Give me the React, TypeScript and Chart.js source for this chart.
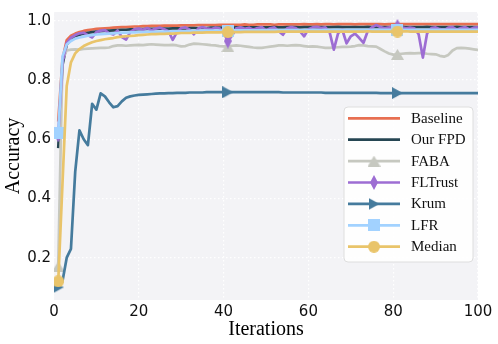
import React, { useEffect, useRef } from 'react';
import { Chart, registerables } from 'chart.js';

Chart.register(...registerables);

// x positions (iteration index)
const iterations: number[] = Array.from({ length: 101 }, (_, i) => i);
const xTicks = [0, 20, 40, 60, 80, 100];
const yTicks = [0.2, 0.4, 0.6, 0.8, 1.0];
const markerIdx = [1, 41, 81];

const seriesLabels = ['Baseline', 'Our FPD', 'FABA', 'FLTrust', 'Krum', 'LFR', 'Median'];

const baseline = [null, 0.66, 0.87, 0.935, 0.950, 0.957, 0.962, 0.966, 0.969, 0.971,
  0.973, 0.974, 0.975, 0.976, 0.977, 0.978, 0.979, 0.979, 0.980, 0.981,
  0.981, 0.982, 0.982, 0.983, 0.983, 0.983, 0.984, 0.984, 0.984, 0.984,
  0.985, 0.985, 0.985, 0.985, 0.986, 0.986, 0.986, 0.986, 0.986, 0.987,
  0.987, 0.987, 0.987, 0.987, 0.987, 0.988, 0.987, 0.987, 0.988, 0.988,
  0.988, 0.988, 0.987, 0.988, 0.988, 0.988, 0.988, 0.988, 0.988, 0.989,
  0.988, 0.988, 0.989, 0.988, 0.989, 0.989, 0.988, 0.989, 0.989, 0.989,
  0.989, 0.988, 0.989, 0.989, 0.989, 0.989, 0.989, 0.989, 0.988, 0.989,
  0.989, 0.989, 0.989, 0.989, 0.989, 0.989, 0.989, 0.989, 0.989, 0.989,
  0.989, 0.989, 0.989, 0.989, 0.989, 0.989, 0.989, 0.989, 0.989, 0.989, 0.989];

const ourFPD = [null, 0.57, 0.85, 0.92, 0.938, 0.947, 0.953, 0.957, 0.960, 0.962,
  0.964, 0.965, 0.966, 0.967, 0.968, 0.969, 0.970, 0.970, 0.971, 0.971,
  0.972, 0.972, 0.973, 0.973, 0.973, 0.974, 0.974, 0.974, 0.975, 0.975,
  0.975, 0.975, 0.976, 0.976, 0.976, 0.976, 0.976, 0.977, 0.977, 0.977,
  0.977, 0.977, 0.977, 0.978, 0.977, 0.978, 0.978, 0.978, 0.978, 0.978,
  0.978, 0.978, 0.979, 0.978, 0.978, 0.979, 0.979, 0.979, 0.978, 0.979,
  0.979, 0.979, 0.979, 0.979, 0.979, 0.979, 0.979, 0.980, 0.979, 0.979,
  0.979, 0.979, 0.979, 0.979, 0.980, 0.979, 0.979, 0.979, 0.979, 0.979,
  0.979, 0.979, 0.980, 0.979, 0.979, 0.979, 0.979, 0.979, 0.980, 0.979,
  0.979, 0.979, 0.979, 0.979, 0.979, 0.980, 0.979, 0.979, 0.979, 0.979, 0.979];

const faba = [null, 0.17, 0.87, 0.900, 0.903, 0.904, 0.903, 0.905, 0.906, 0.907,
  0.908, 0.909, 0.909, 0.910, 0.915, 0.917, 0.917, 0.916, 0.917, 0.918,
  0.919, 0.918, 0.920, 0.921, 0.920, 0.919, 0.918, 0.918, 0.919, 0.917,
  0.914, 0.915, 0.920, 0.923, 0.922, 0.921, 0.920, 0.918, 0.917, 0.915,
  0.914, 0.913, 0.916, 0.917, 0.916, 0.914, 0.912, 0.910, 0.909, 0.909,
  0.911, 0.913, 0.915, 0.917, 0.917, 0.916, 0.917, 0.918, 0.917, 0.915,
  0.913, 0.914, 0.913, 0.911, 0.909, 0.909, 0.910, 0.911, 0.912, 0.912,
  0.913, 0.915, 0.918, 0.917, 0.915, 0.914, 0.913, 0.905, 0.897, 0.890,
  0.886, 0.887, 0.889, 0.890, 0.891, 0.890, 0.891, 0.891, 0.889, 0.888,
  0.887, 0.882, 0.879, 0.885, 0.900, 0.908, 0.909, 0.908, 0.906, 0.904, 0.902];

const flTrust = [null, 0.615, 0.86, 0.925, 0.943, 0.952, 0.958, 0.960, 0.952, 0.944,
  0.962, 0.967, 0.969, 0.958, 0.954, 0.968, 0.945, 0.937, 0.962, 0.972,
  0.974, 0.970, 0.976, 0.968, 0.974, 0.977, 0.972, 0.965, 0.936, 0.962,
  0.976, 0.978, 0.970, 0.955, 0.974, 0.979, 0.975, 0.972, 0.977, 0.975,
  0.960, 0.932, 0.950, 0.975, 0.978, 0.973, 0.977, 0.970, 0.976, 0.979,
  0.968, 0.975, 0.978, 0.965, 0.953, 0.975, 0.979, 0.976, 0.965, 0.948,
  0.972, 0.978, 0.980, 0.976, 0.978, 0.962, 0.903, 0.958, 0.970, 0.924,
  0.948, 0.957, 0.942, 0.926, 0.966, 0.978, 0.986, 0.979, 0.975, 0.978,
  0.982, 0.981, 0.978, 0.975, 0.977, 0.975, 0.955, 0.876, 0.958, 0.976,
  0.978, 0.972, 0.968, 0.977, 0.979, 0.970, 0.976, 0.979, 0.971, 0.977, 0.978];

const krum = [0.09, 0.10, 0.12, 0.20, 0.23, 0.49, 0.63, 0.60, 0.58, 0.72,
  0.70, 0.755, 0.745, 0.725, 0.708, 0.712, 0.728, 0.740, 0.745, 0.748,
  0.750, 0.751, 0.752, 0.753, 0.754, 0.755, 0.755, 0.756, 0.756, 0.757,
  0.757, 0.757, 0.758, 0.758, 0.758, 0.758, 0.759, 0.759, 0.759, 0.759,
  0.759, 0.759, 0.759, 0.759, 0.759, 0.759, 0.759, 0.759, 0.759, 0.759,
  0.759, 0.759, 0.759, 0.759, 0.758, 0.758, 0.758, 0.758, 0.758, 0.758,
  0.758, 0.758, 0.758, 0.758, 0.757, 0.757, 0.757, 0.757, 0.757, 0.757,
  0.757, 0.757, 0.757, 0.757, 0.757, 0.757, 0.757, 0.756, 0.756, 0.756,
  0.756, 0.756, 0.756, 0.756, 0.756, 0.756, 0.756, 0.756, 0.756, 0.756,
  0.756, 0.756, 0.756, 0.756, 0.756, 0.756, 0.756, 0.756, 0.756, 0.756, 0.756];

const lfr = [null, 0.62, 0.88, 0.92, 0.932, 0.940, 0.944, 0.947, 0.950, 0.952,
  0.954, 0.955, 0.956, 0.957, 0.958, 0.959, 0.960, 0.960, 0.961, 0.961,
  0.962, 0.962, 0.963, 0.963, 0.963, 0.964, 0.964, 0.964, 0.965, 0.965,
  0.965, 0.965, 0.966, 0.966, 0.966, 0.966, 0.967, 0.967, 0.967, 0.967,
  0.967, 0.967, 0.968, 0.968, 0.968, 0.968, 0.968, 0.968, 0.968, 0.969,
  0.968, 0.969, 0.969, 0.969, 0.969, 0.969, 0.969, 0.969, 0.969, 0.969,
  0.969, 0.970, 0.969, 0.969, 0.970, 0.969, 0.970, 0.970, 0.969, 0.970,
  0.970, 0.970, 0.970, 0.970, 0.970, 0.970, 0.970, 0.970, 0.970, 0.970,
  0.970, 0.970, 0.970, 0.970, 0.970, 0.970, 0.970, 0.970, 0.970, 0.970,
  0.970, 0.970, 0.970, 0.970, 0.970, 0.970, 0.970, 0.970, 0.970, 0.970, 0.970];

const median = [null, 0.12, 0.45, 0.78, 0.86, 0.89, 0.905, 0.915, 0.922, 0.928,
  0.932, 0.935, 0.938, 0.940, 0.942, 0.945, 0.947, 0.948, 0.949, 0.950,
  0.952, 0.953, 0.954, 0.955, 0.955, 0.956, 0.956, 0.957, 0.957, 0.958,
  0.959, 0.959, 0.959, 0.960, 0.960, 0.960, 0.961, 0.961, 0.961, 0.961,
  0.962, 0.962, 0.962, 0.962, 0.962, 0.963, 0.963, 0.963, 0.963, 0.963,
  0.963, 0.963, 0.963, 0.964, 0.964, 0.964, 0.964, 0.964, 0.964, 0.964,
  0.964, 0.964, 0.964, 0.964, 0.964, 0.964, 0.964, 0.964, 0.964, 0.964,
  0.964, 0.964, 0.964, 0.964, 0.965, 0.964, 0.964, 0.964, 0.964, 0.964,
  0.964, 0.964, 0.964, 0.965, 0.964, 0.964, 0.964, 0.964, 0.964, 0.964,
  0.964, 0.964, 0.964, 0.964, 0.964, 0.964, 0.964, 0.964, 0.964, 0.964, 0.964];

const seriesData = [baseline, ourFPD, faba, flTrust, krum, lfr, median];
const seriesColors = ['#e76f51', '#264653', '#c6c8c0', '#9d6dd3', '#457b9d', '#a2d2ff', '#e9c46a'];
const seriesMarkers = ['none', 'none', 'triUp', 'thinDiamond', 'triRight', 'square', 'circle'];

function makeMarker(shape: string, color: string): HTMLCanvasElement | null {
  if (shape === 'none') return null;
  const c = document.createElement('canvas');
  let w = 12, h = 12;
  if (shape === 'triUp') { w = 13; h = 11; }
  if (shape === 'thinDiamond') { w = 8; h = 15; }
  if (shape === 'triRight') { w = 11; h = 12; }
  c.width = w; c.height = h;
  const g = c.getContext('2d')!;
  g.fillStyle = color;
  g.beginPath();
  if (shape === 'triUp') { g.moveTo(w / 2, 0); g.lineTo(w, h); g.lineTo(0, h); }
  else if (shape === 'thinDiamond') { g.moveTo(w / 2, 0); g.lineTo(w, h / 2); g.lineTo(w / 2, h); g.lineTo(0, h / 2); }
  else if (shape === 'triRight') { g.moveTo(0, 0); g.lineTo(w, h / 2); g.lineTo(0, h); }
  else if (shape === 'square') { g.rect(0, 0, w, h); }
  else if (shape === 'circle') { g.arc(w / 2, h / 2, w / 2, 0, Math.PI * 2); }
  g.closePath();
  g.fill();
  return c;
}

const bgPlugin = {
  id: 'plotBg',
  beforeDraw(chart: any) {
    const { ctx, chartArea } = chart;
    ctx.save();
    ctx.fillStyle = '#f3f3f6';
    ctx.fillRect(chartArea.left, chartArea.top, chartArea.right - chartArea.left, chartArea.bottom - chartArea.top);
    ctx.restore();
  },
};

const legendPlugin = {
  id: 'boxLegend',
  afterDraw(chart: any) {
    const ctx: CanvasRenderingContext2D = chart.ctx;
    const x0 = 344, y0 = 107, w = 129, h = 155, r = 4;
    ctx.save();
    ctx.beginPath();
    ctx.moveTo(x0 + r, y0);
    ctx.lineTo(x0 + w - r, y0);
    ctx.quadraticCurveTo(x0 + w, y0, x0 + w, y0 + r);
    ctx.lineTo(x0 + w, y0 + h - r);
    ctx.quadraticCurveTo(x0 + w, y0 + h, x0 + w - r, y0 + h);
    ctx.lineTo(x0 + r, y0 + h);
    ctx.quadraticCurveTo(x0, y0 + h, x0, y0 + h - r);
    ctx.lineTo(x0, y0 + r);
    ctx.quadraticCurveTo(x0, y0, x0 + r, y0);
    ctx.closePath();
    ctx.fillStyle = 'rgba(255,255,255,0.9)';
    ctx.fill();
    ctx.strokeStyle = '#dedede';
    ctx.lineWidth = 1;
    ctx.stroke();
    chart.data.datasets.forEach((ds: any, i: number) => {
      const cy = 118.3 + i * 21.4;
      ctx.beginPath();
      ctx.strokeStyle = ds.borderColor;
      ctx.lineWidth = ds.borderWidth;
      ctx.moveTo(348, cy);
      ctx.lineTo(400, cy);
      ctx.stroke();
      const m = ds.legendMarker as HTMLCanvasElement | null;
      if (m) ctx.drawImage(m, 374 - m.width / 2, cy - m.height / 2);
      ctx.fillStyle = '#111';
      ctx.font = '15px "Liberation Serif", "Times New Roman", serif';
      ctx.textBaseline = 'middle';
      ctx.textAlign = 'left';
      ctx.fillText(ds.label, 411, cy + 0.5);
    });
    ctx.restore();
  },
};

export default function App() {
  const ref = useRef<HTMLCanvasElement>(null);
  useEffect(() => {
    const datasets = seriesData.map((arr, si) => {
      const marker = makeMarker(seriesMarkers[si], seriesColors[si]);
      return {
        label: seriesLabels[si],
        data: arr.map((v, i) => ({ x: iterations[i], y: v })),
        borderColor: seriesColors[si],
        backgroundColor: seriesColors[si],
        borderWidth: 2.7,
        borderJoinStyle: 'round',
        tension: 0,
        pointStyle: marker || 'circle',
        pointRadius: (c: any) => (marker && markerIdx.includes(c.dataIndex) ? 6 : 0),
        pointHoverRadius: 0,
        pointBorderWidth: 0,
        order: seriesData.length - si,
        legendMarker: marker,
      } as any;
    });
    const chart = new Chart(ref.current!, {
      type: 'line',
      data: { datasets },
      options: {
        animation: false,
        responsive: false,
        events: [],
        layout: { padding: { top: 5, right: 20, left: 0, bottom: 0 } },
        plugins: { legend: { display: false }, tooltip: { enabled: false } },
        scales: {
          x: {
            type: 'linear',
            min: 0,
            max: 100,
            afterBuildTicks: (s: any) => { s.ticks = xTicks.map((v) => ({ value: v })); },
            afterFit: (s: any) => { s.height = 44; },
            ticks: {
              padding: 3,
              color: '#111',
              font: { family: '"DejaVu Sans", sans-serif', size: 15 },
              callback: (v: any) => String(v),
              maxRotation: 0,
            },
            grid: {
              drawTicks: false,
              color: '#ffffff',
              lineWidth: 1.2,
            },
            border: { display: false, dash: [1.5, 2.5] },
            title: {
              display: true,
              text: 'Iterations',
              color: '#000',
              font: { family: '"Liberation Serif", "Times New Roman", serif', size: 20, lineHeight: 1.2 },
              padding: { top: 0, bottom: 2 },
            },
          },
          y: {
            type: 'linear',
            min: 0.057,
            max: 1.03,
            afterBuildTicks: (s: any) => { s.ticks = yTicks.map((v) => ({ value: v })); },
            afterFit: (s: any) => { s.width = 54; },
            ticks: {
              padding: 3,
              color: '#111',
              font: { family: '"DejaVu Sans", sans-serif', size: 15 },
              callback: (v: any) => Number(v).toFixed(1),
            },
            grid: {
              drawTicks: false,
              color: '#ffffff',
              lineWidth: 1.2,
            },
            border: { display: false, dash: [1.5, 2.5] },
            title: {
              display: true,
              text: 'Accuracy',
              color: '#000',
              font: { family: '"Liberation Serif", "Times New Roman", serif', size: 20, lineHeight: 1 },
              padding: { top: 4, bottom: 0 },
            },
          },
        },
      },
      plugins: [bgPlugin, legendPlugin],
    } as any);
    return () => chart.destroy();
  }, []);
  return (
    <div style={{ position: 'absolute', left: 0, top: 0, width: 498, height: 344 }}>
      <canvas ref={ref} width={498} height={344} style={{ display: 'block' }} />
    </div>
  );
}
